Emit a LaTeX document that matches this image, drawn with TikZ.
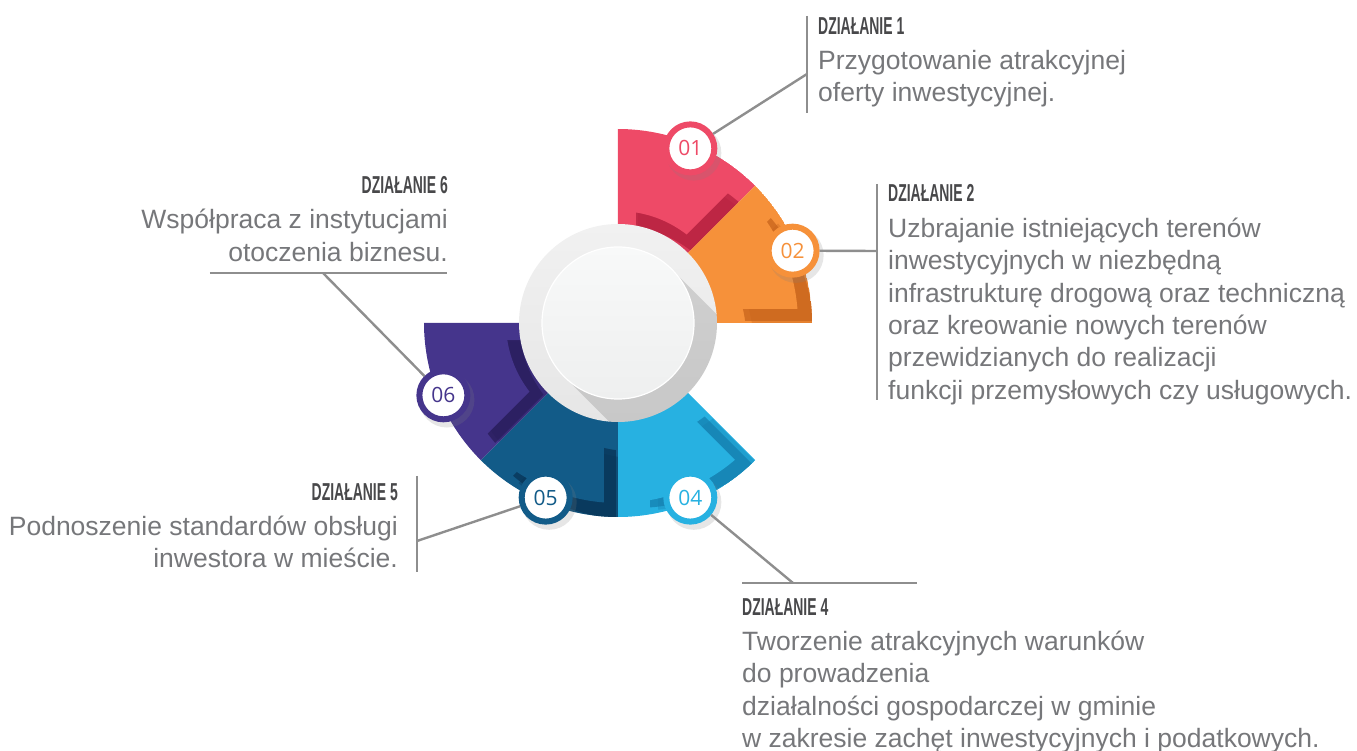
\documentclass[tikz,border=0pt]{standalone}
\usepackage{fontspec}
\setmainfont{Liberation Sans}
\newfontfamily\headfont[FakeStretch=0.57]{Liberation Sans}
\newfontfamily\numfont{Open Sans}
\usetikzlibrary{shadows}
\definecolor{pinkcolor}{RGB}{238,74,103}
\definecolor{pinkshade}{RGB}{180,32,62}
\definecolor{orangecolor}{RGB}{246,145,58}
\definecolor{orangeshade}{RGB}{200,100,28}
\definecolor{cyancolor}{RGB}{39,177,225}
\definecolor{cyanshade}{RGB}{20,128,176}
\definecolor{navycolor}{RGB}{18,91,136}
\definecolor{navyshade}{RGB}{8,52,86}
\definecolor{violetcolor}{RGB}{69,53,140}
\definecolor{violetshade}{RGB}{40,28,90}
\definecolor{leadgray}{RGB}{142,142,142}
\definecolor{headgray}{RGB}{72,72,74}
\definecolor{bodygray}{RGB}{118,119,122}
\definecolor{ringtop}{RGB}{241,241,241}
\definecolor{ringbottom}{RGB}{230,230,230}
\definecolor{disctop}{RGB}{248,249,249}
\definecolor{discbottom}{RGB}{238,239,239}
\newcommand\actionhead[1]{{\color{headgray}\headfont\bfseries\fontsize{24.5}{28}\selectfont #1}}
\newcommand\panelpath[1]{(#1+4.5:180pt) arc[start angle=#1+4.5, end angle=#1+40.5, radius=180pt]
	-- (#1+37.8:112pt) arc[start angle=#1+37.8, end angle=#1+7.2, radius=112pt] -- cycle}

\begin{document}
\begin{tikzpicture}[
    x=1pt, y=1pt,
    badge/.style={circle, draw=#1, fill=white, line width=6pt,
		minimum size=48pt, inner sep=0pt, text=#1,
		font=\numfont\fontsize{21}{21}\selectfont,
		drop shadow={shadow xshift=3pt, shadow yshift=-4pt, shadow scale=1.15, opacity=0.2}},
    action/.style={inner sep=0pt, text=bodygray, font=\fontsize{26.5}{32.4}\selectfont},
    lead/.style={draw=leadgray, line width=2.4pt}
    ]

\useasboundingbox (-618,-428) rectangle (739,323);

\foreach \a/\col/\dark/\sx/\sy in {45/pinkcolor/pinkshade/4/-16, 0/orangecolor/orangeshade/16/-12,
	-90/cyancolor/cyanshade/18/-5, -135/navycolor/navyshade/12/-16, -180/violetcolor/violetshade/14/-3} {
	\begin{scope}
		\clip (0,0) -- (\a:194pt) arc[start angle=\a, end angle=\a+45, radius=194pt] -- cycle;
		\fill[\col] (0,0) circle[radius=194pt];
		\fill[\dark, opacity=0.35, shift={({1.45*\sx},{1.45*\sy})}] \panelpath{\a};
		\fill[\dark, opacity=0.75, shift={(\sx,\sy)}] \panelpath{\a};
		\fill[\col] \panelpath{\a};
	\end{scope}
}

\shade[top color=ringtop, bottom color=ringbottom] (0,0) circle[radius=99pt];
\begin{scope}
	\clip (0,0) circle[radius=99pt];
	\fill[black, opacity=0.13] (45:76pt) -- ++(-45:200pt) -- ++(-135:152pt) -- (-135:76pt) -- cycle;
\end{scope}
\shade[top color=disctop, bottom color=discbottom] (0,0) circle[radius=76pt];
\draw[white, line width=1.2pt] (0,0) circle[radius=76pt];

\node[badge=pinkcolor] (b1) at (67.5:189pt) {01};
\node[badge=orangecolor] (b2) at (22.5:189pt) {02};
\node[badge=cyancolor] (b4) at (-67.5:189pt) {04};
\node[badge=navycolor] (b5) at (-112.5:189pt) {05};
\node[badge=violetcolor] (b6) at (-157.5:189pt) {06};

\node[action, anchor=north west, align=left] (t1) at (200,306) {
	\actionhead{DZIAŁANIE 1}\\[3pt]
	Przygotowanie atrakcyjnej\\
	oferty inwestycyjnej.};
\node[action, anchor=north west, align=left] (t2) at (270,138.5) {
	\actionhead{DZIAŁANIE 2}\\[3pt]
	Uzbrajanie istniejących terenów\\
	inwestycyjnych w niezbędną\\
	infrastrukturę drogową oraz techniczną\\
	oraz kreowanie nowych terenów\\
	przewidzianych do realizacji\\
	funkcji przemysłowych czy usługowych.};
\node[action, anchor=north west, align=left] (t4) at (124,-275) {
	\actionhead{DZIAŁANIE 4}\\[3pt]
	Tworzenie atrakcyjnych warunków\\
	do prowadzenia\\
	działalności gospodarczej w gminie\\
	w zakresie zachęt inwestycyjnych i podatkowych.};
\node[action, anchor=north east, align=right] (t5) at (-220,-160) {
	\actionhead{DZIAŁANIE 5}\\[3pt]
	Podnoszenie standardów obsługi\\
	inwestora w mieście.};
\node[action, anchor=north east, align=right] (t6) at (-170,147) {
	\actionhead{DZIAŁANIE 6}\\[3pt]
	Współpraca z instytucjami\\
	otoczenia biznesu.};

\coordinate (c1) at (189,249);
\coordinate (c2) at (259,72);
\coordinate (c4) at (175,-260);
\coordinate (c5) at (-201,-218);
\coordinate (c6) at (-295,50);

\draw[lead] (189,307) -- (189,210);
\draw[lead] (259,139) -- (259,-77);
\draw[lead] (124,-260) -- (299,-260);
\draw[lead] (-201,-153) -- (-201,-249);
\draw[lead] (-408,50) -- (-171,50);

\draw[lead] (b1) -- (c1);
\draw[lead] (b2) -- (c2);
\draw[lead] (b4) -- (c4);
\draw[lead] (b5) -- (c5);
\draw[lead] (b6) -- (c6);

\end{tikzpicture}
\end{document}
